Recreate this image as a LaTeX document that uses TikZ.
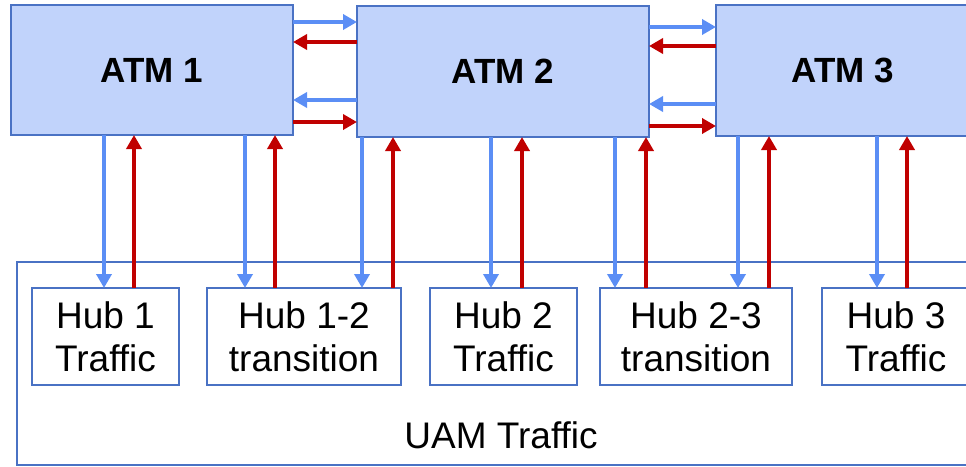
\documentclass[tikz,border=0pt]{standalone}
\usepackage{fontspec}
\setmainfont{Liberation Sans}
\usetikzlibrary{arrows.meta}

\definecolor{atmfill}{HTML}{C1D3FB}
\definecolor{boxline}{HTML}{4A72C4}
\definecolor{flowblue}{HTML}{5B8EF5}
\definecolor{flowred}{HTML}{C00000}

\tikzset{
  atmbox/.style={draw=boxline, fill=atmfill, line width=2pt, rectangle,
    anchor=north west, inner sep=0pt, outer sep=0pt,
    font=\bfseries\fontsize{35}{42}\selectfont},
  hubbox/.style={draw=boxline, fill=white, line width=2pt, rectangle,
    anchor=north west, inner sep=0pt, outer sep=0pt, align=center,
    font=\fontsize{37}{43}\selectfont},
  uambox/.style={draw=boxline, line width=2pt, rectangle,
    anchor=north west, inner sep=0pt, outer sep=0pt},
  down/.style={draw=flowblue, line width=4pt,
    -{Triangle[length=14pt,width=15pt]}},
  up/.style={draw=flowred, line width=4pt,
    -{Triangle[length=14pt,width=15pt]}},
}

\begin{document}
\begin{tikzpicture}[x=1pt, y=-1pt]
\useasboundingbox (0,0) rectangle (966,466);

% UAM traffic container
\node[uambox, minimum width=968, minimum height=203] (uam) at (17,262) {};
\node[font=\fontsize{37}{43}\selectfont, anchor=base] (uamlabel) at (501,448) {UAM Traffic};

% ATM sectors
\node[atmbox, minimum width=282, minimum height=130] (atm1) at (11,5) {ATM 1};
\node[atmbox, minimum width=292, minimum height=131] (atm2) at (357,6) {ATM 2};
\node[atmbox, minimum width=254, minimum height=131] (atm3) at (716,5) {ATM 3};

% Hub traffic boxes
\node[hubbox, minimum width=147, minimum height=97] (hub1) at (32,288) {Hub 1\\Traffic};
\node[hubbox, minimum width=194, minimum height=97] (hub12) at (207,288) {Hub 1-2\\transition};
\node[hubbox, minimum width=147, minimum height=97] (hub2) at (430,288) {Hub 2\\Traffic};
\node[hubbox, minimum width=192, minimum height=97] (hub23) at (600,288) {Hub 2-3\\transition};
\node[hubbox, minimum width=148, minimum height=97] (hub3) at (822,288) {Hub 3\\Traffic};

% rows of the horizontal exchange arrows
\coordinate (ra) at (0,22);
\coordinate (rb) at (0,42);
\coordinate (rc) at (0,100);
\coordinate (rd) at (0,122);
\coordinate (sa) at (0,27);
\coordinate (sb) at (0,46);
\coordinate (sc) at (0,104);
\coordinate (sd) at (0,126);

\draw[down] (atm1.east |- ra) -- (atm2.west |- ra);
\draw[up]   (atm2.west |- rb) -- (atm1.east |- rb);
\draw[down] (atm2.west |- rc) -- (atm1.east |- rc);
\draw[up]   (atm1.east |- rd) -- (atm2.west |- rd);

\draw[down] (atm2.east |- sa) -- (atm3.west |- sa);
\draw[up]   (atm3.west |- sb) -- (atm2.east |- sb);
\draw[down] (atm3.west |- sc) -- (atm2.east |- sc);
\draw[up]   (atm2.east |- sd) -- (atm3.west |- sd);

% columns of the vertical arrows
\coordinate (b1) at (104,0);  \coordinate (q1) at (134,0);
\coordinate (b2) at (245,0);  \coordinate (q2) at (275,0);
\coordinate (b3) at (362,0);  \coordinate (q3) at (393,0);
\coordinate (b4) at (491,0);  \coordinate (q4) at (522,0);
\coordinate (b5) at (615,0);  \coordinate (q5) at (646,0);
\coordinate (b6) at (738,0);  \coordinate (q6) at (769,0);
\coordinate (b7) at (877,0);  \coordinate (q7) at (907,0);

\draw[down] (b1 |- atm1.south) -- (b1 |- hub1.north);
\draw[up]   (q1 |- hub1.north) -- (q1 |- atm1.south);
\draw[down] (b2 |- atm1.south) -- (b2 |- hub12.north);
\draw[up]   (q2 |- hub12.north) -- (q2 |- atm1.south);
\draw[down] (b3 |- atm2.south) -- (b3 |- hub12.north);
\draw[up]   (q3 |- hub12.north) -- (q3 |- atm2.south);
\draw[down] (b4 |- atm2.south) -- (b4 |- hub2.north);
\draw[up]   (q4 |- hub2.north) -- (q4 |- atm2.south);
\draw[down] (b5 |- atm2.south) -- (b5 |- hub23.north);
\draw[up]   (q5 |- hub23.north) -- (q5 |- atm2.south);
\draw[down] (b6 |- atm3.south) -- (b6 |- hub23.north);
\draw[up]   (q6 |- hub23.north) -- (q6 |- atm3.south);
\draw[down] (b7 |- atm3.south) -- (b7 |- hub3.north);
\draw[up]   (q7 |- hub3.north) -- (q7 |- atm3.south);
\end{tikzpicture}
\end{document}
